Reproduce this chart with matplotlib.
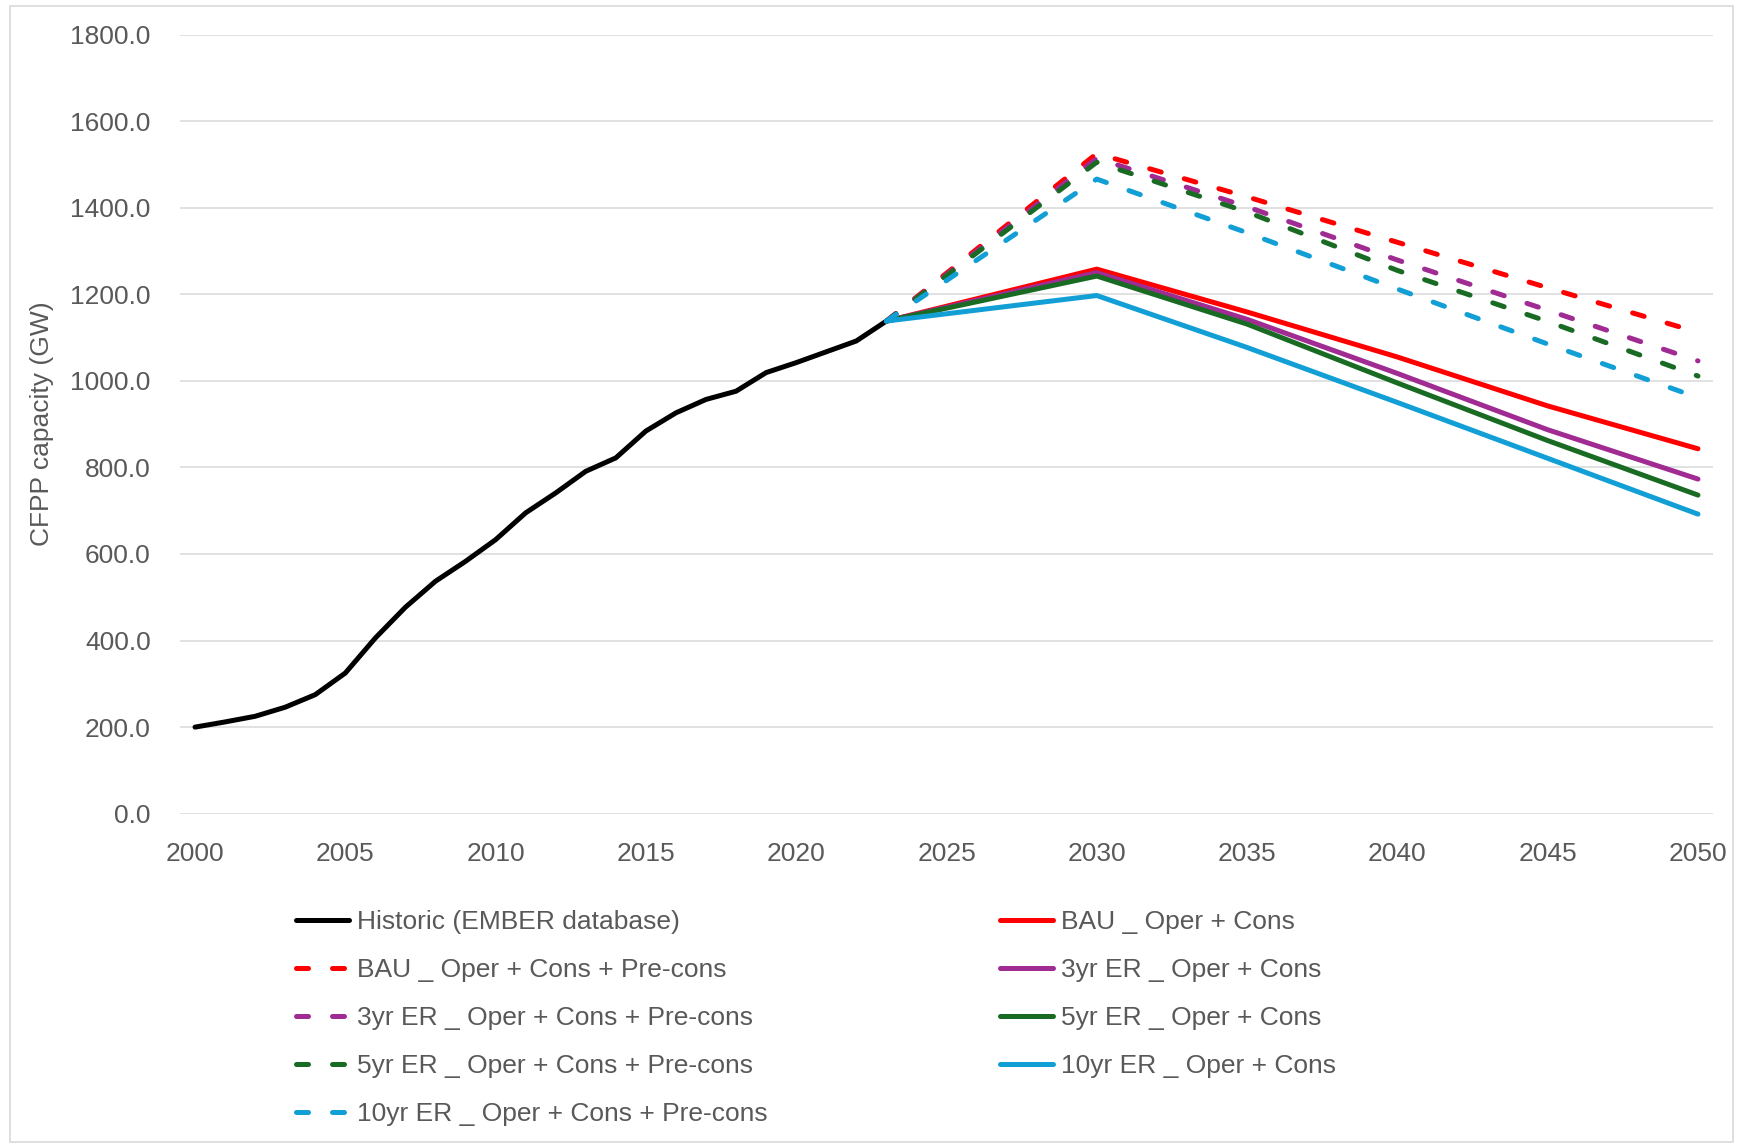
import matplotlib
matplotlib.use("Agg")
import matplotlib.pyplot as plt
from matplotlib.patches import Rectangle

# ---------------- data ----------------
hist_years = [2000, 2001, 2002, 2003, 2004, 2005, 2006, 2007, 2008, 2009, 2010, 2011,
              2012, 2013, 2014, 2015, 2016, 2017, 2018, 2019, 2020, 2021, 2022, 2023]
hist_vals = [200, 212, 225, 246, 275, 325, 406, 477, 537, 583, 633, 695,
             741, 791, 822, 884, 926, 957, 976, 1019, 1042, 1067, 1092, 1138]

proj_years = [2023, 2030, 2035, 2040, 2045, 2050]
bau_oc = [1138, 1258, 1159, 1055, 942, 843]
bau_ocp = [1138, 1525, 1425, 1320, 1215, 1112]
er3_oc = [1138, 1250, 1142, 1017, 887, 773]
er3_ocp = [1138, 1514, 1402, 1279, 1163, 1046]
er5_oc = [1138, 1242, 1131, 995, 862, 736]
er5_ocp = [1138, 1505, 1390, 1255, 1137, 1011]
er10_oc = [1138, 1197, 1077, 950, 821, 692]
er10_ocp = [1138, 1466, 1342, 1212, 1085, 961]

labels = ["Historic (EMBER database)",
          "BAU _ Oper + Cons", "BAU _ Oper + Cons + Pre-cons",
          "3yr ER _ Oper + Cons", "3yr ER _ Oper + Cons + Pre-cons",
          "5yr ER _ Oper + Cons", "5yr ER _ Oper + Cons + Pre-cons",
          "10yr ER _ Oper + Cons", "10yr ER _ Oper + Cons + Pre-cons"]

y_ticks = [0, 200, 400, 600, 800, 1000, 1200, 1400, 1600, 1800]
x_ticks = [2000, 2005, 2010, 2015, 2020, 2025, 2030, 2035, 2040, 2045, 2050]

# ---------------- style ----------------
C_RED = "#FF0000"
C_PUR = "#A02B93"
C_GRN = "#196B24"
C_BLU = "#129FD6"
TXT = "#595959"
GRID = "#D9D9D9"
LW = 3.6
DASH = (0, (2.4, 4.8))

plt.rcParams["font.family"] = ["Liberation Sans", "DejaVu Sans"]

W, H = 1737, 1143
fig = plt.figure(figsize=(W / 100, H / 100), dpi=100)
ax = fig.add_axes([180 / W, 1 - 813.7 / H, (1713 - 180) / W, (813.7 - 34.5) / H])

series = [
    (hist_years, hist_vals, "black", "-"),
    (proj_years, bau_oc, C_RED, "-"),
    (proj_years, bau_ocp, C_RED, DASH),
    (proj_years, er3_oc, C_PUR, "-"),
    (proj_years, er3_ocp, C_PUR, DASH),
    (proj_years, er5_oc, C_GRN, "-"),
    (proj_years, er5_ocp, C_GRN, DASH),
    (proj_years, er10_oc, C_BLU, "-"),
    (proj_years, er10_ocp, C_BLU, DASH),
]
handles = []
for (xs, ys, c, ls), lab in zip(series, labels):
    ln, = ax.plot(xs, ys, color=c, linestyle=ls, linewidth=LW,
                  solid_capstyle="round", dash_capstyle="round",
                  solid_joinstyle="round", label=lab)
    handles.append(ln)

ax.set_xlim(1999.5, 2050.5)
ax.set_ylim(0, 1800)
ax.set_yticks(y_ticks)
ax.set_yticklabels([f"{v:.1f}" for v in y_ticks])
ax.set_xticks(x_ticks)
ax.set_xticklabels([str(v) for v in x_ticks])
ax.tick_params(axis="both", length=0, labelsize=19, colors=TXT)
ax.tick_params(axis="y", pad=21)
ax.tick_params(axis="x", pad=20.5)
ax.grid(axis="y", color=GRID, linewidth=1.1)
ax.set_axisbelow(True)
for s in ax.spines.values():
    s.set_visible(False)

ax.set_ylabel("CFPP capacity (GW)", fontsize=19, color=TXT)
ax.yaxis.set_label_coords(-0.082, 0.5)

# legend in two columns (row-major order as in reference)
col1 = [0, 2, 4, 6, 8]
col2 = [1, 3, 5, 7]
kw = dict(frameon=False, fontsize=19, labelcolor=TXT, handlelength=2.0,
          handletextpad=0.3, labelspacing=0.91, borderpad=0, borderaxespad=0,
          loc="upper left")
leg1 = fig.legend([handles[i] for i in col1], [labels[i] for i in col1],
                  bbox_to_anchor=(296 / W, 1 - 910 / H), **kw)
leg2 = fig.legend([handles[i] for i in col2], [labels[i] for i in col2],
                  bbox_to_anchor=(1000 / W, 1 - 910 / H), **kw)

# outer chart border
fig.add_artist(Rectangle((10 / W, 1 / H), (1733 - 10) / W, (1137 - 1) / H,
                         transform=fig.transFigure, fill=False,
                         edgecolor=GRID, linewidth=1.2))

fig.savefig("out.png", dpi=100, facecolor="white")
